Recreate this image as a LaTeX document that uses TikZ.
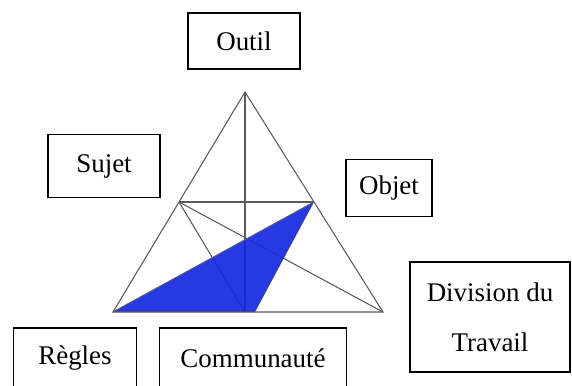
\documentclass[tikz,border=0pt]{standalone}
\usepackage{fontspec}
\setmainfont{Liberation Serif}
\usepackage{xcolor}
\usepackage{tikz}
\usetikzlibrary{positioning,calc}
\definecolor{edgegray}{RGB}{90, 90, 90}
\definecolor{triblue}{RGB}{20, 40, 225}

\begin{document}
\begin{tikzpicture}[x=0.03cm, y=-0.03cm,
    pole/.style={rectangle, draw=black, line width=0.9pt, fill=white,
                 inner sep=0pt, align=center,
                 font=\fontsize{23}{28}\selectfont},
    edge/.style={draw=edgegray, line width=0.9pt}
]
\clip (0,0) rectangle (572,385);
\useasboundingbox (0,0) rectangle (572,385);

% triangle points
\coordinate (A) at (245,92);
\coordinate (L) at (113,312);
\coordinate (R) at (383,312);
\coordinate (M) at (245,312);
\coordinate (P) at ($(A)!0.5!(L)$);
\coordinate (Q) at ($(A)!0.5!(R)$);
\coordinate (B) at (255,312);

\draw[edge] (A) -- (M);
\draw[edge] (P) -- (Q);
\draw[edge] (P) -- (R);
\draw[edge] (P) -- (M);
\fill[triblue, opacity=0.92] (L) -- (Q) -- (B) -- cycle;
\draw[edge] (L) -- (A) -- (R) -- cycle;
\draw[edge] (L) -- (Q);

\node[pole, minimum width=3.36cm, minimum height=1.68cm] (outil) at (244,41) {Outil};
\node[pole, minimum width=3.36cm, minimum height=1.89cm] (sujet) at (104,166) {Sujet};
\node[pole, minimum width=2.58cm, minimum height=1.71cm] (objet) at (389,188) {Objet};
\node[pole, minimum width=4.8cm, minimum height=3.3cm,
      font=\fontsize{23}{42.5}\selectfont] (division) at (490,317) {Division du\\Travail};
\node[pole, minimum width=3.69cm, minimum height=1.8cm] (regles) at (75,358) {Règles};
\node[pole, minimum width=5.61cm, minimum height=1.8cm] (communaute) at (253,358) {Communauté};
\end{tikzpicture}
\end{document}
